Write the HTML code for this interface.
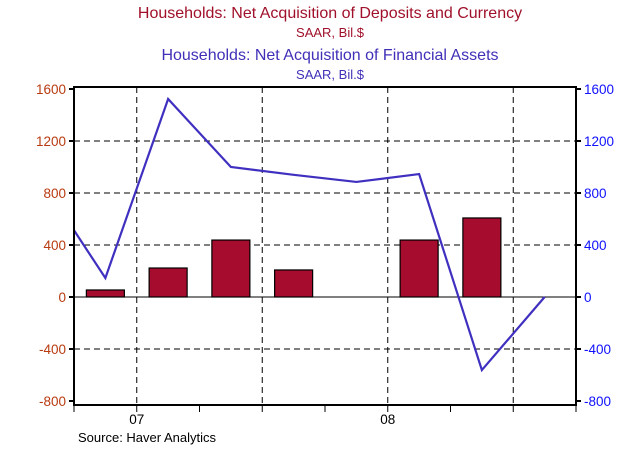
<!DOCTYPE html>
<html><head><meta charset="utf-8"><style>
body{margin:0;background:#fff;}
svg{display:block;font-family:"Liberation Sans",Arial,sans-serif;}
</style></head><body>
<svg id="c" width="634" height="455">
<g>
<text x="330" y="18" text-anchor="middle" font-size="16" fill="#a0102a">Households: Net Acquisition of Deposits and Currency</text>
<text x="330" y="37" text-anchor="middle" font-size="13" fill="#a0102a">SAAR, Bil.$</text>
<text x="330" y="60" text-anchor="middle" font-size="16" fill="#4030b8">Households: Net Acquisition of Financial Assets</text>
<text x="330" y="79" text-anchor="middle" font-size="13" fill="#4030b8">SAAR, Bil.$</text>
</g>
<g id="grid"></g><g id="bars"></g><g id="line"></g><g id="axes"></g>
<text x="78" y="442" font-size="13" fill="#000">Source: Haver Analytics</text>
</svg>
<script>
const quarters = ["06Q3","06Q4","07Q1","07Q2","07Q3","07Q4","08Q1","08Q2"];
const deposits = [54, 223, 438, 208, 0, 438, 608, 0];
const hasBar = [true,true,true,true,false,true,true,false];
const financial = [146, 1523, 1000, 940, 885, 946, -562, 0];
const prevFinancial = 880;
const yTicks = [-800,-400,0,400,800,1200,1600];
const yearLabels = ["07","08"];
const yearTickIndex = [1,5];

const L=74,R=576,T=87,B=405;
const n=quarters.length, qw=(R-L)/n;
const y=v=>297-v*0.13;
const xc=i=>L+qw*(i+0.5);
const xt=i=>L+qw*i;
const NS="http://www.w3.org/2000/svg";
function mk(p,tag,a){const e=document.createElementNS(NS,tag);for(const k in a)e.setAttribute(k,a[k]);p.appendChild(e);return e;}
const grid=document.getElementById('grid'),bars=document.getElementById('bars'),line=document.getElementById('line'),axes=document.getElementById('axes');
yTicks.forEach(v=>{if(v===0||v===-800||v===1600)return;
 const g=mk(grid,'line',{x1:L,x2:R,y1:y(v),y2:y(v),stroke:'#000','stroke-width':1,'stroke-dasharray':'6,4'});
 
 });
for(let i=1;i<n;i+=2){const g=mk(grid,'line',{x1:xt(i),x2:xt(i),y1:T,y2:B,stroke:'#000','stroke-width':1,'stroke-dasharray':'6,4'});
 
 }
const z=mk(grid,'line',{x1:L,x2:R,y1:y(0),y2:y(0),stroke:'#000','stroke-width':1});


deposits.forEach((v,i)=>{if(!hasBar[i])return;
 const top=Math.min(y(v),y(0)),h=Math.abs(y(v)-y(0));
 const r=mk(bars,'rect',{x:xc(i)-19,y:top,width:38,height:h,fill:'#a50c2e',stroke:'#000','stroke-width':1.2});
 
 });
const cp=mk(line,'clipPath',{id:'clip'});mk(cp,'rect',{x:L,y:T,width:R-L,height:B-T});
let pts=[[xc(-1),y(prevFinancial)]].concat(financial.map((v,i)=>[xc(i),y(v)]));
const pl=mk(line,'polyline',{points:pts.map(p=>p.join(',')).join(' '),fill:'none',stroke:'#4030c0','stroke-width':2.2,'clip-path':'url(#clip)'});


const box=mk(axes,'rect',{x:L,y:T,width:R-L,height:B-T,fill:'none',stroke:'#000','stroke-width':2});


yTicks.forEach(v=>{
 mk(axes,'line',{x1:L-5,x2:L,y1:y(v),y2:y(v),stroke:'#000','stroke-width':2});
 mk(axes,'line',{x1:R,x2:R+5,y1:y(v),y2:y(v),stroke:'#000','stroke-width':2});
 const a=mk(axes,'text',{x:L-8,y:y(v)+5,'text-anchor':'end','font-size':13.5,fill:'#b83a10'});a.textContent=v;
 
 
 const b=mk(axes,'text',{x:R+8,y:y(v)+5,'font-size':13.5,fill:'#1010ff'});b.textContent=v;
 
 });
for(let i=0;i<=n;i++)mk(axes,'line',{x1:xt(i),x2:xt(i),y1:B,y2:B+7,stroke:'#000','stroke-width':1});
yearLabels.forEach((s,k)=>{const t=mk(axes,'text',{x:xt(yearTickIndex[k]),y:B+19,'text-anchor':'middle','font-size':13.5,fill:'#000'});t.textContent=s;
 
 });
</script>
</body></html>
